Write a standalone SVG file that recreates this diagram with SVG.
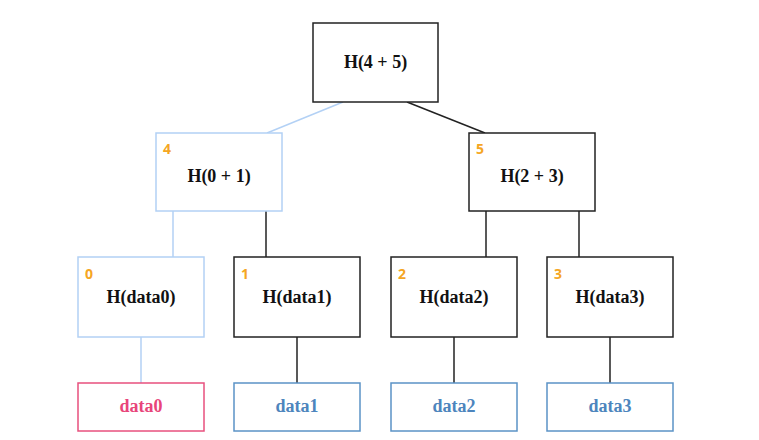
<svg xmlns="http://www.w3.org/2000/svg" width="759" height="440" viewBox="0 0 759 440">
<style>
.box{fill:#fff;stroke:#222;stroke-width:1.5}
.hl{fill:#fff;stroke:#b3d1f5;stroke-width:1.5}
.dbox{fill:#fff;stroke:#5b93c6;stroke-width:1.5}
.dred{fill:#fff;stroke:#e8507e;stroke-width:1.5}
.t{font-family:"Liberation Serif","Times New Roman",serif;font-weight:bold;font-size:18px;fill:#111;text-anchor:middle}
.dt{font-family:"Liberation Serif","Times New Roman",serif;font-weight:bold;font-size:18px;fill:#4d85bd;text-anchor:middle}
.dtr{fill:#e8457a}
.n{font-family:"Open Sans","Liberation Sans",Arial,sans-serif;font-weight:bold;font-size:14px;fill:#f5a623}
.c{stroke:#222;stroke-width:1.5;fill:none}
.cl{stroke:#b3d1f5;stroke-width:1.5;fill:none}
</style>
<rect width="759" height="440" fill="#fff"/>
<g id="connectors">
<line class="cl" x1="343" y1="102" x2="267" y2="133"/>
<line class="c" x1="407" y1="102" x2="485" y2="133"/>
<line class="cl" x1="173" y1="211" x2="173" y2="257"/>
<line class="c" x1="266" y1="211" x2="266" y2="257"/>
<line class="c" x1="486" y1="211" x2="486" y2="257"/>
<line class="c" x1="579" y1="211" x2="579" y2="257"/>
<line class="cl" x1="141" y1="337" x2="141" y2="383"/>
<line class="c" x1="297" y1="337" x2="297" y2="383"/>
<line class="c" x1="454" y1="337" x2="454" y2="383"/>
<line class="c" x1="610" y1="337" x2="610" y2="383"/>
</g>
<g id="root">
<rect class="box" x="313" y="23" width="125" height="79"/>
<text class="t" x="375.5" y="68">H(4 + 5)</text>
</g>
<g id="h4">
<rect class="hl" x="156" y="133" width="126" height="78"/>
<text class="n" x="163" y="154">4</text>
<text class="t" x="219" y="182">H(0 + 1)</text>
</g>
<g id="h5">
<rect class="box" x="469" y="133" width="126" height="78"/>
<text class="n" x="476" y="154">5</text>
<text class="t" x="532" y="182">H(2 + 3)</text>
</g>
<g id="h0">
<rect class="hl" x="78" y="257" width="126" height="80"/>
<text class="n" x="85" y="279">0</text>
<text class="t" x="141" y="303">H(data0)</text>
</g>
<g id="h1">
<rect class="box" x="234" y="257" width="126" height="80"/>
<text class="n" x="241" y="279">1</text>
<text class="t" x="297" y="303">H(data1)</text>
</g>
<g id="h2">
<rect class="box" x="391" y="257" width="126" height="80"/>
<text class="n" x="398" y="279">2</text>
<text class="t" x="454" y="303">H(data2)</text>
</g>
<g id="h3">
<rect class="box" x="547" y="257" width="126" height="80"/>
<text class="n" x="554" y="279">3</text>
<text class="t" x="610" y="303">H(data3)</text>
</g>
<g id="d0">
<rect class="dred" x="78" y="383" width="126" height="48"/>
<text class="dt dtr" x="141" y="412">data0</text>
</g>
<g id="d1">
<rect class="dbox" x="234" y="383" width="126" height="48"/>
<text class="dt" x="297" y="412">data1</text>
</g>
<g id="d2">
<rect class="dbox" x="391" y="383" width="126" height="48"/>
<text class="dt" x="454" y="412">data2</text>
</g>
<g id="d3">
<rect class="dbox" x="547" y="383" width="126" height="48"/>
<text class="dt" x="610" y="412">data3</text>
</g>
</svg>
